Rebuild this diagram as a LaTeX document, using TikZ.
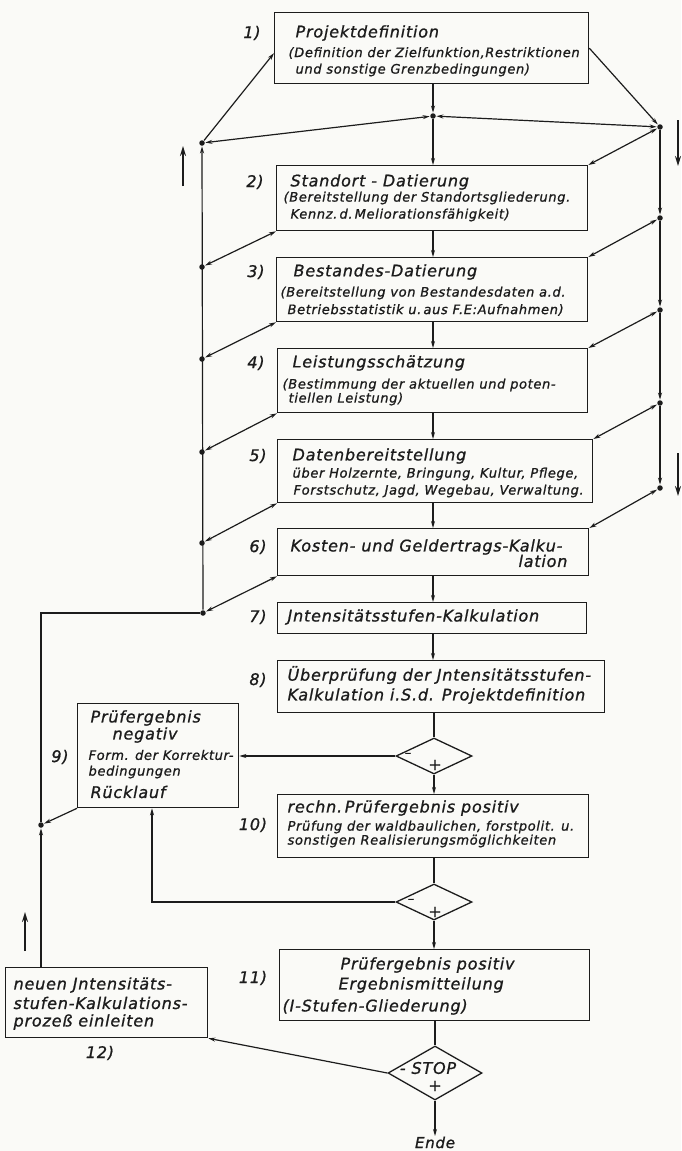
\documentclass[tikz,border=0pt]{standalone}
\usepackage{fontspec}
\setmainfont{DejaVu Sans}
\newfontfamily\dvT{DejaVu Sans}[LetterSpace=5,FakeBold=1]
\usetikzlibrary{arrows.meta,shapes.geometric}
\definecolor{ink}{RGB}{28,28,28}
\definecolor{paper}{RGB}{250,250,247}
\newcommand\fT{\dvT\fontsize{16}{19}\selectfont\itshape}
\newcommand\fS{\dvT\fontsize{13}{15}\selectfont\itshape}
\newcommand\bx[5]{\node[box,minimum width={(#4-#2)*1pt},minimum height={(#5-#3)*1pt}] (#1) at (#2,#3) {};}
\newcommand\tx[5]{\node[txt,font=#4] (#1) at (#2,#3) {#5};}
\begin{document}
\begin{tikzpicture}[x=1pt,y=-1pt,color=ink,
  every path/.style={line width=1.2pt},
  >={Stealth[length=7pt,width=4pt]},
  box/.style={draw=ink,line width=1.3pt,inner sep=0pt,anchor=north west},
  txt/.style={anchor=west,inner sep=0pt,text=ink},
  lbl/.style={inner sep=0pt,text=ink,font=\fT},
  dot/.style={circle,fill=ink,draw=none,inner sep=0pt,minimum size=5.5pt},
  dia/.style={diamond,draw=ink,line width=1.3pt,inner sep=0pt},
  bigarrow/.style={line width=2.2pt,-{Stealth[length=10pt,width=6pt]}}]
\useasboundingbox (0,0) rectangle (681,1151);
\fill[paper] (0,0) rectangle (681,1151);

% boxes
\bx{b1}{274}{12}{588}{83}
\bx{b2}{276}{165}{587}{230}
\bx{b3}{276}{257}{587}{321}
\bx{b4}{277}{348}{587}{412}
\bx{b5}{277}{439}{592}{502}
\bx{b6}{277}{528}{588}{575}
\bx{b7}{277}{602}{586}{633}
\bx{b8}{277}{660}{604}{712}
\bx{b9}{77}{703}{238}{807}
\bx{b10}{277}{794}{588}{857}
\bx{b11}{279}{949}{589}{1020}
\bx{b12}{5}{967}{207}{1037}

% diamonds
\node[dia,minimum width=76pt,minimum height=36pt] (d1) at (434,756) {};
\node[dia,minimum width=76pt,minimum height=36pt] (d2) at (434,902) {};
\node[dia,minimum width=94pt,minimum height=54pt] (st) at (435,1073) {};

% box texts
\tx{t1a}{295}{33}{\fT}{Projektdefinition}
\tx{t1b}{288}{53}{\fS}{(Definition der Zielfunktion,Restriktionen}
\tx{t1c}{295}{70}{\fS}{und sonstige Grenzbedingungen)}
\tx{t2a}{290}{182}{\fT}{Standort - Datierung}
\tx{t2b}{283}{198}{\fS}{(Bereitstellung der Standortsgliederung.}
\tx{t2c}{290}{215}{\fS}{Kennz.\,d.\,Meliorationsfähigkeit)}
\tx{t3a}{293}{272}{\fT}{Bestandes-Datierung}
\tx{t3b}{280}{293}{\fS}{(Bereitstellung von Bestandesdaten a.d.}
\tx{t3c}{287}{310}{\fS}{Betriebsstatistik u.\,aus F.E:Aufnahmen)}
\tx{t4a}{292}{363}{\fT}{Leistungsschätzung}
\tx{t4b}{282}{385}{\fS}{(Bestimmung der aktuellen und poten-}
\tx{t4c}{288}{399}{\fS}{tiellen Leistung)}
\tx{t5a}{292}{456}{\fT}{Datenbereitstellung}
\tx{t5b}{292}{474}{\fS}{über Holzernte, Bringung, Kultur, Pflege,}
\tx{t5c}{293}{491}{\fS}{Forstschutz, Jagd, Wegebau, Verwaltung.}
\tx{t6a}{290}{547}{\fT}{Kosten- und Geldertrags-Kalku-}
\node[txt,anchor=east,font=\fT] (t6b) at (568,561) {lation};
\tx{t7a}{287}{617}{\fT}{Jntensitätsstufen-Kalkulation}
\tx{t8a}{287}{675}{\fT}{Überprüfung der Jntensitätsstufen-}
\tx{t8b}{287}{696}{\fT}{Kalkulation i.S.d. Projektdefinition}
\tx{t9a}{90}{718}{\fT}{Prüfergebnis}
\tx{t9b}{112}{735}{\fT}{negativ}
\tx{t9c}{88}{755}{\fS}{Form. der Korrektur-}
\tx{t9d}{88}{772}{\fS}{bedingungen}
\tx{t9e}{90}{792}{\fT}{Rücklauf}
\tx{t10a}{287}{808}{\fT}{rechn.\,Prüfergebnis positiv}
\tx{t10b}{287}{827}{\fS}{Prüfung der waldbaulichen, forstpolit. u.}
\tx{t10c}{287}{841}{\fS}{sonstigen Realisierungsmöglichkeiten}
\tx{t11a}{340}{965}{\fT}{Prüfergebnis positiv}
\tx{t11b}{338}{985}{\fT}{Ergebnismitteilung}
\tx{t11c}{282}{1007}{\fT}{(I-Stufen-Gliederung)}
\tx{t12a}{13}{985}{\fT}{neuen Jntensitäts-}
\tx{t12b}{13}{1003}{\fT}{stufen-Kalkulations-}
\tx{t12c}{13}{1022}{\fT}{prozeß einleiten}

% diamond signs
\node[lbl,font=\fS] (m1) at (408,755) {–};
\node[lbl] (p1) at (435,765) {+};
\node[lbl,font=\fS] (m2) at (411,901) {–};
\node[lbl] (p2) at (435,912) {+};
\node[lbl] (s1) at (428,1068) {- STOP};
\node[lbl] (p3) at (435,1086) {+};
\node[lbl,anchor=north,font={\dvT\fontsize{15}{16}\selectfont\itshape}] (ende) at (435,1136) {Ende};

% step numbers
\node[lbl] (n1) at (252,33) {1)};
\node[lbl] (n2) at (255,182) {2)};
\node[lbl] (n3) at (256,272) {3)};
\node[lbl] (n4) at (256,363) {4)};
\node[lbl] (n5) at (258,456) {5)};
\node[lbl] (n6) at (258,547) {6)};
\node[lbl] (n7) at (258,617) {7)};
\node[lbl] (n8) at (258,680) {8)};
\node[lbl] (n9) at (60,757) {9)};
\node[lbl] (n10) at (253,825) {10)};
\node[lbl] (n11) at (253,978) {11)};
\node[lbl] (n12) at (100,1053) {12)};

% junctions
\node[dot] (dc) at (433,116) {};
\node[dot] (jl1) at (202,143) {};
\node[dot] (jl2) at (202,267) {};
\node[dot] (jl3) at (202,359) {};
\node[dot] (jl4) at (202,452) {};
\node[dot] (jl5) at (202,543) {};
\node[dot] (jl6) at (203,613) {};
\node[dot] (jl7) at (41,825) {};
\node[dot] (jr1) at (660,127) {};
\node[dot] (jr2) at (660,218) {};
\node[dot] (jr3) at (660,310) {};
\node[dot] (jr4) at (660,403) {};
\node[dot] (jr5) at (660,488) {};
\coordinate (cL) at (41,613);
\coordinate (cD2) at (152,902);

% main flow
\draw[->] (b1.south -| dc) -- (dc);
\draw[->] (dc) -- (dc |- b2.north);
\draw[->] (b2.south -| dc) -- (dc |- b3.north);
\draw[->] (b3.south -| dc) -- (dc |- b4.north);
\draw[->] (b4.south -| dc) -- (dc |- b5.north);
\draw[->] (b5.south -| dc) -- (dc |- b6.north);
\draw[->] (b6.south -| dc) -- (dc |- b7.north);
\draw[->] (b7.south -| dc) -- (dc |- b8.north);
\draw (b8.south -| d1.north) -- (d1.north);
\draw[->] (d1.south) -- (d1.south |- b10.north);
\draw[->] (d1.west) -- (d1.west -| b9.east);
\draw (b10.south -| d2.north) -- (d2.north);
\draw[->] (d2.south) -- (d2.south |- b11.north);
\draw[->] (d2.west) -- (cD2) -- (cD2 |- b9.south);
\draw (b11.south -| st.north) -- (st.north);
\draw[->] (st.south) -- (ende.north);
\draw[->] (st.west) -- (b12.south east);

% left return line
\draw[->] (b9.south west) -- (jl7);
\draw[->] (b12.north -| jl7) -- (jl7);
\draw (jl7) -- (cL) -- (jl6);
\draw[->] (jl6) -- (jl1);
\draw[->] (jl1) -- ([yshift=-5pt]b1.west);
\draw[<->] (jl1) -- (dc);
\draw[<->] (dc) -- (jr1);
\draw[<->] (jl2) -- (b2.south west);
\draw[<->] (jl3) -- (b3.south west);
\draw[<->] (jl4) -- (b4.south west);
\draw[<->] (jl5) -- (b5.south west);
\draw[<->] (jl6) -- (b6.south west);

% right line
\draw[->] (b1.east) -- (jr1);
\draw[->] (jr1) -- (jr2);
\draw[->] (jr2) -- (jr3);
\draw[->] (jr3) -- (jr4);
\draw[->] (jr4) -- (jr5);
\draw[<->] (jr1) -- (b2.north east);
\draw[<->] (jr2) -- (b3.north east);
\draw[<->] (jr3) -- (b4.north east);
\draw[<->] (jr4) -- (b5.north east);
\draw[<->] (jr5) -- (b6.north east);

% direction arrows
\coordinate (ua1s) at (183,186); \coordinate (ua1e) at (183,146);
\draw[bigarrow] (ua1s) -- (ua1e);
\coordinate (da1s) at (678,120); \coordinate (da1e) at (678,166);
\draw[bigarrow] (da1s) -- (da1e);
\coordinate (da2s) at (678,453); \coordinate (da2e) at (678,496);
\draw[bigarrow] (da2s) -- (da2e);
\coordinate (ua2s) at (25,951); \coordinate (ua2e) at (25,912);
\draw[bigarrow] (ua2s) -- (ua2e);
\end{tikzpicture}
\end{document}
